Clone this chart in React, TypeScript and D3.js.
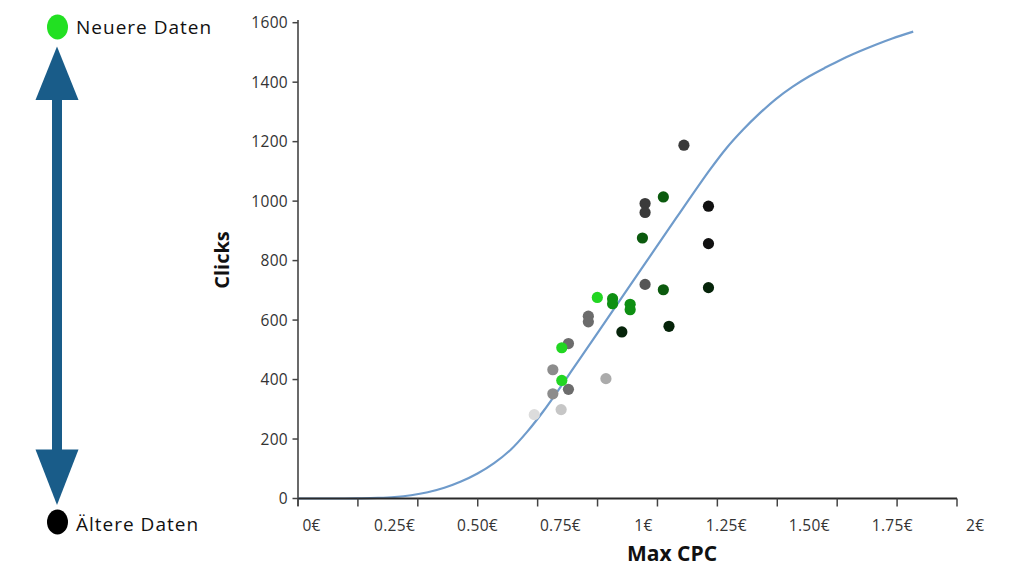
import * as d3 from "d3";

// x axis labels (euros) and y ticks (clicks)
const xLabelValues = [0, 0.25, 0.5, 0.75, 1, 1.25, 1.5, 1.75, 2];
const xLabelText = ["0€", "0.25€", "0.50€", "0.75€", "1€", "1.25€", "1.50€", "1.75€", "2€"];
const xTickMarks = [0, 1, 2, 3, 4, 5, 6, 7, 8, 9, 10, 11];
const yTicks = [0, 200, 400, 600, 800, 1000, 1200, 1400, 1600];

// fitted curve
const curveCpc = [
  -0.041, 0.1, 0.15, 0.2, 0.25, 0.3, 0.35, 0.4, 0.45, 0.5, 0.55, 0.6, 0.65, 0.7,
  0.8, 0.9, 1.0, 1.1, 1.2, 1.25, 1.3, 1.35, 1.4, 1.45, 1.5, 1.55, 1.6, 1.65, 1.7, 1.75, 1.813,
];
const curveClicks = [
  0, 0, 0.5, 2, 5, 11, 21, 36, 57, 84, 119, 164, 225, 296,
  456, 619, 782, 945, 1105, 1178, 1240, 1295, 1344, 1385, 1420, 1450, 1478, 1503, 1526, 1547, 1570,
];

// observations: max cpc, clicks, recency level (0 = oldest/faded .. 11 = newest)
const pointCpc = [0.671, 0.752, 0.727, 0.887, 0.727, 0.774, 0.774, 0.834, 0.834, 1.005, 1.005, 1.005, 1.122, 1.196, 1.196, 1.196, 0.935, 1.077, 1.06, 0.997, 1.06, 0.907, 0.907, 0.96, 0.96, 0.754, 0.754, 0.861];
const pointClicks = [282, 299, 352, 403, 433, 367, 521, 613, 594, 720, 992, 962, 1188, 983, 857, 709, 560, 579, 702, 876, 1014, 672, 655, 653, 635, 397, 507, 676];
const pointRecency = [0, 1, 3, 2, 3, 4, 4, 4, 4, 5, 6, 6, 6, 7, 7, 8, 8, 8, 9, 9, 9, 10, 10, 10, 10, 11, 11, 11];

const recencyColors = [
  "#dcdcdc", "#c6c6c6", "#ababab", "#8c8c8c", "#6c6c6c", "#555555",
  "#3a3a3a", "#111111", "#06240a", "#0b5a0e", "#0e8f12", "#22d622",
];

const FONT = "'Open Sans', Lato, sans-serif";
const ARROW = "#195c89";

export default function App() {
  const x = d3.scaleLinear().domain([-0.041, 1.945]).range([298, 957]);
  const y = d3.scaleLinear().domain([0, 1600]).range([498.5, 22.7]);
  const tickPos = d3.scaleLinear().domain([0, 11]).range(x.range());

  const line = d3
    .line<number>()
    .x((_, i) => x(curveCpc[i]))
    .y((d) => y(d))
    .curve(d3.curveCatmullRom);

  const [x0, x1] = x.range();
  const yBase = y(0);

  return (
    <svg
      width={1024}
      height={576}
      style={{ position: "absolute", left: 0, top: 0, background: "#fff" }}
    >
      {/* legend arrow */}
      <rect x={52} y={98} width={10} height={353} fill={ARROW} />
      <path d="M57,46.5 L78.5,100 L35.5,100 Z" fill={ARROW} />
      <path d="M57,505 L78.5,449.5 L35.5,449.5 Z" fill={ARROW} />
      <ellipse cx={57.5} cy={27} rx={10.5} ry={12.5} fill="#22e022" />
      <ellipse cx={57.5} cy={522} rx={10.5} ry={12.5} fill="#000" />
      <text x={76} y={33.5} fontFamily={FONT} fontSize={19} letterSpacing={1} fill="#111">
        Neuere Daten
      </text>
      <text x={76} y={531} fontFamily={FONT} fontSize={19} letterSpacing={1} fill="#111">
        Ältere Daten
      </text>

      {/* y axis */}
      <line x1={x0} x2={x0} y1={20} y2={506} stroke="#444" strokeWidth={1.6} />
      {yTicks.map((t) => (
        <g key={t}>
          <line x1={x0 - 5.5} x2={x0} y1={y(t)} y2={y(t)} stroke="#444" strokeWidth={1.5} />
          <text
            x={288}
            y={y(t)}
            dy="0.36em"
            textAnchor="end"
            fontFamily={FONT}
            fontSize={15.5}
            letterSpacing={0.3}
            fill="#333"
          >
            {t}
          </text>
        </g>
      ))}

      {/* curve */}
      <path d={line(curveClicks) ?? ""} fill="none" stroke="#6f9bcb" strokeWidth={2.2} />

      {/* x axis */}
      <line x1={x0} x2={x1} y1={yBase} y2={yBase} stroke="#2a2a2a" strokeWidth={2.2} />
      {xTickMarks.map((t) => (
        <line
          key={t}
          x1={tickPos(t)}
          x2={tickPos(t)}
          y1={yBase}
          y2={yBase + 8}
          stroke="#444"
          strokeWidth={1.5}
        />
      ))}
      {xLabelValues.map((v, i) => (
        <text
          key={v}
          x={x(v)}
          y={531}
          textAnchor="middle"
          fontFamily={FONT}
          fontSize={15.5}
          letterSpacing={0.3}
          fill="#333"
        >
          {xLabelText[i]}
        </text>
      ))}

      {/* points */}
      {pointCpc.map((c, i) => (
        <circle
          key={i}
          cx={x(c)}
          cy={y(pointClicks[i])}
          r={5.6}
          fill={recencyColors[pointRecency[i]]}
        />
      ))}

      {/* axis titles */}
      <text
        transform="translate(229,260) rotate(-90)"
        textAnchor="middle"
        fontFamily={FONT}
        fontSize={20}
        fontWeight="bold"
        fill="#111"
      >
        Clicks
      </text>
      <text
        x={672}
        y={561}
        textAnchor="middle"
        fontFamily={FONT}
        fontSize={21}
        fontWeight="bold"
        fill="#111"
      >
        Max CPC
      </text>
    </svg>
  );
}
